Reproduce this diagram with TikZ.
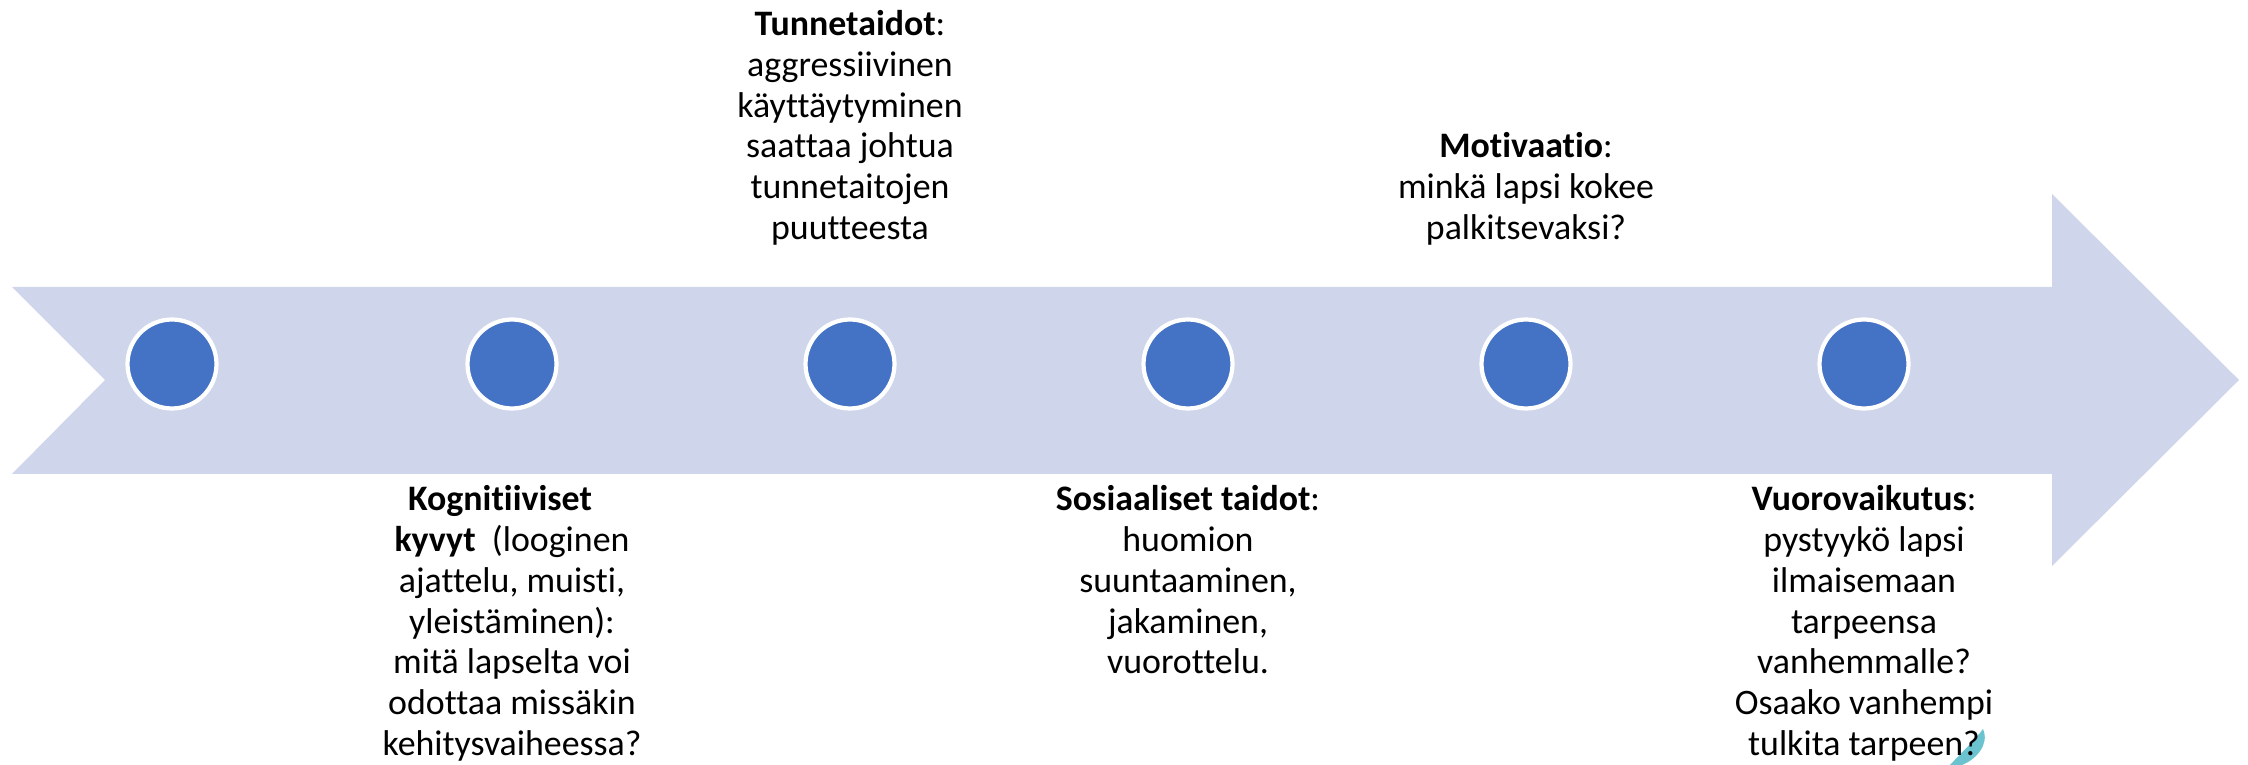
\documentclass[tikz,border=0pt]{standalone}
\usepackage{fontspec}
\setmainfont{Carlito}[Ligatures=NoCommon]
\definecolor{bandfill}{HTML}{CFD5EA}
\definecolor{dotfill}{HTML}{4472C4}
\definecolor{leafteal}{HTML}{6CC3D0}
\begin{document}
\begin{tikzpicture}[
dot/.style={circle, fill=dotfill, draw=white, line width=1.2pt,
  minimum size=0.89cm, inner sep=0pt},
toptext/.style={anchor=south, align=center, inner sep=0pt,
  font=\fontsize{10.2}{11.6}\selectfont},
bottext/.style={anchor=north, align=center, inner sep=0pt,
  font=\fontsize{10.2}{11.6}\selectfont}
]
\useasboundingbox (0,0) rectangle (22.48,7.65);

\fill[bandfill] (0.12,4.78) -- (20.52,4.78) -- (20.52,5.71) -- (22.39,3.85)
  -- (20.52,1.99) -- (20.52,2.91) -- (0.12,2.91) -- (1.05,3.85) -- cycle;

\foreach \Val [count=\i] in {1.72,5.12,8.50,11.88,15.26,18.64}
  \node[dot] (dot\i) at (\Val,4.01) {};

% small teal piece under the last text
\fill[leafteal] (19.83,0.36) .. controls (19.90,0.20) and (19.75,0.05) .. (19.62,0)
  -- (19.50,0) .. controls (19.62,0.13) and (19.75,0.25) .. cycle;

\path
  (8.50,5.19) node[toptext] (tunne) {\textbf{Tunnetaidot}:\\ aggressiivinen\\
    käyttäytyminen\\ saattaa johtua\\ tunnetaitojen\\ puutteesta}
  (15.26,5.19) node[toptext] (motiv) {\textbf{Motivaatio}:\\ minkä lapsi kokee\\
    palkitsevaksi?};

\path
  (5.12,2.80) node[bottext] (kogn) {\textbf{Kognitiiviset}\hspace*{0.24cm}\\
    \textbf{kyvyt}~ (looginen\\ ajattelu, muisti,\\ yleistäminen):\\
    mitä lapselta voi\\ odottaa missäkin\\ kehitysvaiheessa?}
  (11.88,2.80) node[bottext] (sosi) {\textbf{Sosiaaliset taidot}:\\ huomion\\
    suuntaaminen,\\ jakaminen,\\ vuorottelu.}
  (18.64,2.80) node[bottext] (vuoro) {\textbf{Vuorovaikutus}:\\ pystyykö lapsi\\
    ilmaisemaan\\ tarpeensa\\ vanhemmalle?\\ Osaako vanhempi\\ tulkita tarpeen?};

\end{tikzpicture}
\end{document}
